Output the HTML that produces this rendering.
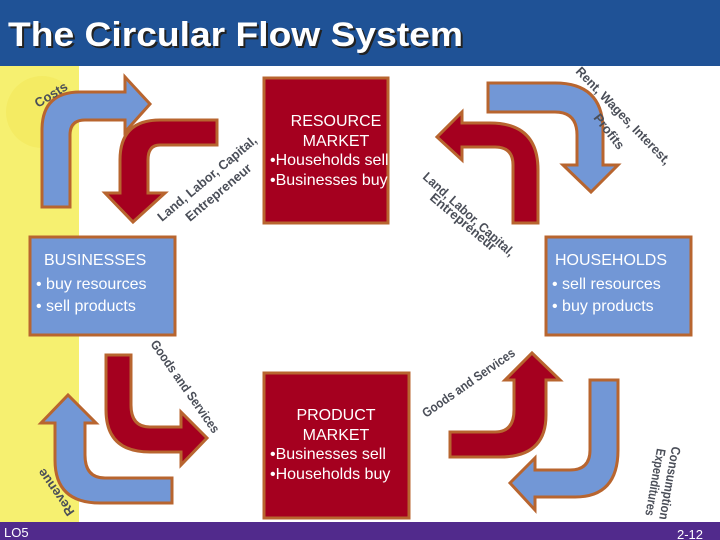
<!DOCTYPE html>
<html><head><meta charset="utf-8"><style>
html,body{margin:0;padding:0;width:720px;height:540px;overflow:hidden;background:#fff}
svg{display:block}
.l{font-family:"Liberation Sans",sans-serif;font-weight:bold;font-size:13px;fill:#4a4e58}
.w{font-family:"Liberation Sans",sans-serif;fill:#fff;font-size:16px}
</style></head><body>
<svg width="720" height="540" viewBox="0 0 720 540" xmlns="http://www.w3.org/2000/svg">
<rect x="0" y="0" width="720" height="66" fill="#1f5296"/>
<text x="10" y="48" textLength="455" lengthAdjust="spacingAndGlyphs" font-family="Liberation Sans,sans-serif" font-weight="bold" font-size="34" fill="#222">The Circular Flow System</text>
<text x="8" y="46" textLength="455" lengthAdjust="spacingAndGlyphs" font-family="Liberation Sans,sans-serif" font-weight="bold" font-size="34" fill="#fff">The Circular Flow System</text>
<rect x="0" y="66" width="79" height="456" fill="#f6f070"/>
<circle cx="42" cy="112" r="36" fill="#f4e85a" opacity="0.6"/>
<rect x="0" y="522" width="720" height="18" fill="#512a8c"/>
<text x="4" y="537" font-family="Liberation Sans,sans-serif" font-size="13" fill="#fff">LO5</text>
<text x="703" y="539" text-anchor="end" font-family="Liberation Sans,sans-serif" font-size="13" fill="#fff">2-12</text>

<g stroke="#b8652f" stroke-width="3" stroke-linejoin="miter">
<rect x="264" y="78" width="124" height="145" fill="#a5001f"/>
<rect x="264" y="373" width="145" height="145" fill="#a5001f"/>
<rect x="30" y="237" width="145" height="98" fill="#7297d6"/>
<rect x="546" y="237" width="145" height="98" fill="#7297d6"/>
<path fill="#7297d6" d="M42,207 L42,130 Q42,92 80,92 L125,92 L125,77 L150,104 L125,132 L125,120 L85,120 Q70,120 70,135 L70,207 Z"/>
<path fill="#a5001f" d="M217,120 L217,145 L160,145 Q148,145 148,160 L148,193 L165,193 L133,222 L105,193 L120,193 L120,160 Q120,120 160,120 Z"/>
<path fill="#a5001f" d="M538,223 L513,223 L513,165 Q513,147 495,147 L462,147 L462,160 L437,137 L462,112 L462,123 L490,123 Q538,123 538,170 Z"/>
<path fill="#7297d6" d="M488,83 L555,83 Q603,83 603,130 L603,165 L618,165 L591,192 L563,165 L577,165 L577,135 Q577,112 555,112 L488,112 Z"/>
<path fill="#a5001f" d="M106,355 L131,355 L131,405 Q131,427 150,427 L181,427 L181,412 L207,438 L181,465 L181,452 L150,452 Q106,452 106,410 Z"/>
<path fill="#7297d6" d="M172,478 L172,503 L100,503 Q55,503 55,460 L55,423 L41,423 L68,395 L96,423 L85,423 L85,455 Q85,478 105,478 Z"/>
<path fill="#a5001f" d="M450,432 L495,432 Q514,432 514,410 L514,380 L505,380 L532,353 L560,380 L546,380 L546,415 Q546,457 500,457 L450,457 Z"/>
<path fill="#7297d6" d="M590,380 L618,380 L618,450 Q618,497 575,497 L535,497 L535,510 L510,483 L535,458 L535,470 L570,470 Q590,470 590,450 Z"/>
</g>

<text class="w" x="336" y="126" text-anchor="middle" font-size="15">RESOURCE</text>
<text class="w" x="336" y="146" text-anchor="middle" font-size="15">MARKET</text>
<text class="w" x="270" y="165" font-size="15">•Households sell</text>
<text class="w" x="270" y="185" font-size="15">•Businesses buy</text>
<text class="w" x="336" y="420" text-anchor="middle" font-size="15">PRODUCT</text>
<text class="w" x="336" y="440" text-anchor="middle" font-size="15">MARKET</text>
<text class="w" x="270" y="459" font-size="15">•Businesses sell</text>
<text class="w" x="270" y="479" font-size="15">•Households buy</text>
<text class="w" x="44" y="265">BUSINESSES</text>
<text class="w" x="36" y="289">• buy resources</text>
<text class="w" x="36" y="311">• sell products</text>
<text class="w" x="555" y="265">HOUSEHOLDS</text>
<text class="w" x="552" y="289">• sell resources</text>
<text class="w" x="552" y="311">• buy products</text>

<text class="l" transform="translate(38,108) rotate(-32)">Costs</text>
<text class="l" transform="translate(162,222) rotate(-40)" textLength="125" lengthAdjust="spacingAndGlyphs">Land, Labor, Capital,</text>
<text class="l" transform="translate(190,222) rotate(-40)" fill="#777" font-size="12">Entrepreneur</text>
<text class="l" transform="translate(575,72) rotate(46)" textLength="130" lengthAdjust="spacingAndGlyphs">Rent, Wages, Interest,</text>
<text class="l" transform="translate(593,118) rotate(52)" fill="#777" font-size="12">Profits</text>
<text class="l" transform="translate(422,178) rotate(42)" textLength="118" lengthAdjust="spacingAndGlyphs">Land, Labor, Capital,</text>
<text class="l" transform="translate(429,199) rotate(40)" fill="#777" font-size="12">Entrepreneur</text>
<text class="l" transform="translate(150,344) rotate(55)" textLength="110" lengthAdjust="spacingAndGlyphs">Goods and Services</text>
<text class="l" transform="translate(426,418) rotate(-35)" textLength="110" lengthAdjust="spacingAndGlyphs">Goods and Services</text>
<text class="l" transform="translate(75,512) rotate(-125)">Revenue</text>
<text class="l" transform="translate(672,446) rotate(100)" textLength="74" lengthAdjust="spacingAndGlyphs">Consumption</text>
<text class="l" transform="translate(657,448) rotate(100)" fill="#777" font-size="12" textLength="68" lengthAdjust="spacingAndGlyphs">Expenditures</text>
</svg>
</body></html>
